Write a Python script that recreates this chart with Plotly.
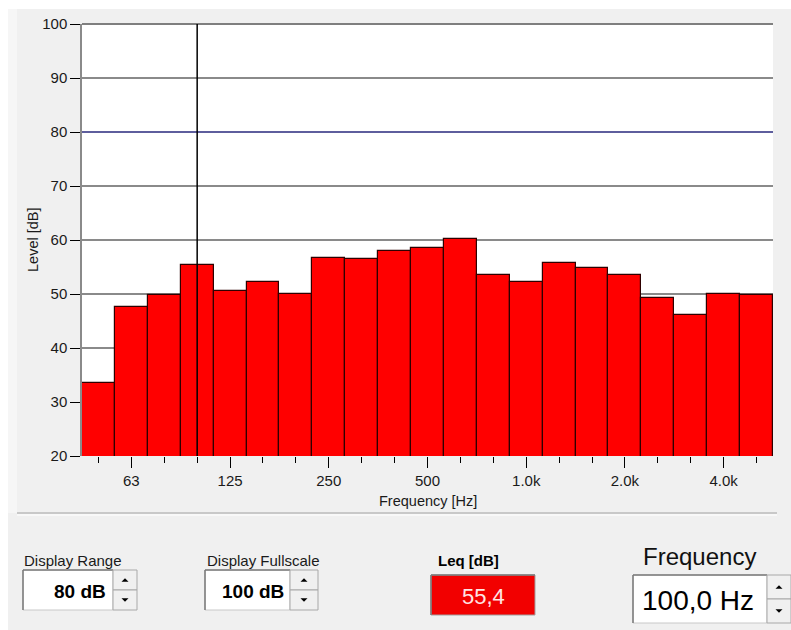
import plotly.graph_objects as go

# Third-octave band centre frequencies [Hz] and measured levels [dB]
bands = [50, 63, 80, 100, 125, 160, 200, 250, 315, 400, 500, 630,
         800, 1000, 1250, 1600, 2000, 2500, 3150, 4000, 5000]
levels = [33.5, 47.6, 49.8, 55.4, 50.6, 52.2, 50.0, 56.7, 56.4, 58.0, 58.5, 60.2,
          53.6, 52.2, 55.8, 54.8, 53.6, 49.3, 46.2, 50.0, 49.8]

# Labelled (major) frequency ticks
labeled_bands = [63, 125, 250, 500, 1000, 2000, 4000]
tick_text = ["63", "125", "250", "500", "1.0k", "2.0k", "4.0k"]

# Display settings
display_range = 80       # dB
display_fullscale = 100  # dB
alarm_level = 80         # dB
selected_freq = 100.0    # Hz (cursor)

W, H = 791, 630
L, R, T, B = 82, 773, 24, 456
FONT = "Liberation Sans, Arial, sans-serif"


def px(x):
    return (x - L) / (R - L)


def py(y):
    return (B - y) / (B - T)


idx = list(range(len(bands)))
sel_i = bands.index(int(selected_freq))
ymin = display_fullscale - display_range

fig = go.Figure()
fig.add_trace(go.Bar(
    x=idx, y=levels, width=1.0,
    marker=dict(color="#ff0000", line=dict(color="#2e0000", width=1.2)),
    hoverinfo="skip", showlegend=False,
))

shapes = []
ann = []


def rect(x0, y0, x1, y1, fill, line=None, lw=1, layer="above"):
    shapes.append(dict(type="rect", xref="paper", yref="paper",
                       x0=px(x0), x1=px(x1), y0=py(y0), y1=py(y1),
                       fillcolor=fill, layer=layer,
                       line=dict(color=line or fill, width=lw if line else 0)))


def hline(x0, x1, y, color, w=1, layer="above"):
    shapes.append(dict(type="line", xref="paper", yref="paper",
                       x0=px(x0), x1=px(x1), y0=py(y), y1=py(y),
                       line=dict(color=color, width=w), layer=layer))


def vline(x, y0, y1, color, w=1, layer="above"):
    shapes.append(dict(type="line", xref="paper", yref="paper",
                       x0=px(x), x1=px(x), y0=py(y0), y1=py(y1),
                       line=dict(color=color, width=w), layer=layer))


def tri(cx, cy, up=True, size=4):
    if up:
        pts = [(cx - size, cy + size / 2), (cx + size, cy + size / 2), (cx, cy - size / 2)]
    else:
        pts = [(cx - size, cy - size / 2), (cx + size, cy - size / 2), (cx, cy + size / 2)]
    path = "M " + " L ".join(f"{px(a):.5f},{py(b):.5f}" for a, b in pts) + " Z"
    shapes.append(dict(type="path", xref="paper", yref="paper", path=path,
                       fillcolor="#000000", line=dict(width=0)))


def text(x, y, s, size, xanchor="left", bold=False, color="#1a1a1a", angle=0):
    ann.append(dict(x=px(x), y=py(y), xref="paper", yref="paper",
                    text=f"<b>{s}</b>" if bold else s, showarrow=False,
                    xanchor=xanchor, yanchor="middle", textangle=angle,
                    font=dict(family=FONT, size=size, color=color)))


def sunken_box(x0, y0, x1, y1, fill="#ffffff"):
    rect(x0, y0, x1, y1, fill, "#c8c8c8", 1)
    hline(x0, x1, y0, "#7a7a7a", 1.5)
    vline(x0, y0, y1, "#7a7a7a", 1.5)


def spinner(x0, y0, x1, y1):
    ym = (y0 + y1) / 2
    rect(x0, y0, x1, ym, "#f0f0f0", "#a8a8a8", 1)
    rect(x0, ym, x1, y1, "#f0f0f0", "#a8a8a8", 1)
    cx = (x0 + x1) / 2
    tri(cx, (y0 + ym) / 2, True, 3.5)
    tri(cx, (ym + y1) / 2, False, 3.5)


# Window frame
rect(0, 0, 8, H, "#ffffff", layer="below")
rect(0, 0, W, 9, "#ffffff", layer="below")
rect(8, 9, 17, 513, "#f6f6f6", layer="below")
hline(17, 777, 513, "#a0a0a0", 1.2)
hline(17, 777, 515, "#ffffff", 1.2)

# Plot frame: top border, alarm line, cursor
hline(L, R, T, "#7f7f7f", 2.2)
shapes.append(dict(type="line", xref="paper", yref="y", x0=0, x1=1,
                   y0=alarm_level, y1=alarm_level,
                   line=dict(color="#4f4fa3", width=1.5)))
shapes.append(dict(type="line", xref="x", yref="y", x0=sel_i, x1=sel_i,
                   y0=ymin, y1=display_fullscale,
                   line=dict(color="#000000", width=1.5)))

# Axis titles
text(33, 240, "Level [dB]", 14.5, xanchor="center", angle=-90)
text(428, 501, "Frequency [Hz]", 14.5, xanchor="center")

# Controls row
text(22, 560, "Display Range", 15)
sunken_box(23, 570, 113, 610)
text(108, 591, f"{display_range} dB", 19, xanchor="right", bold=True, color="#000")
spinner(113, 570, 137, 610)

text(205, 560, "Display Fullscale", 15)
sunken_box(205, 570, 290, 610)
text(286, 591, f"{display_fullscale} dB", 19, xanchor="right", bold=True, color="#000")
spinner(290, 570, 318, 610)

text(469, 560, "Leq [dB]", 15, xanchor="center", bold=True, color="#000")
rect(431, 575, 535, 615, "#f20000", "#a0a0a0", 1)
hline(431, 535, 575, "#7a7a7a", 1.5)
vline(431, 575, 615, "#7a7a7a", 1.5)
leq_txt = f"{levels[sel_i]:.1f}".replace(".", ",")
text(483, 596, leq_txt, 22, xanchor="center", color="#ffe4e4")

text(699, 556, "Frequency", 24, xanchor="center", color="#111")
sunken_box(633, 575, 767, 623)
freq_txt = f"{selected_freq:.1f}".replace(".", ",") + " Hz"
text(640, 600, freq_txt, 28, color="#000")
spinner(767, 575, 791, 623)

fig.update_layout(
    width=W, height=H,
    margin=dict(l=L, r=W - R, t=T, b=H - B, pad=0),
    paper_bgcolor="#f0f0f0", plot_bgcolor="#ffffff",
    bargap=0, showlegend=False,
    shapes=shapes, annotations=ann,
    font=dict(family=FONT, size=15, color="#1a1a1a"),
    xaxis=dict(
        range=[-0.5, len(bands) - 0.5], showgrid=False, zeroline=False,
        tickvals=[bands.index(b) for b in labeled_bands], ticktext=tick_text,
        ticks="outside", ticklen=11, tickwidth=1.2, tickcolor="#000",
        tickfont=dict(size=15, color="#1a1a1a"),
        minor=dict(tickvals=[i for i, b in enumerate(bands) if b not in labeled_bands],
                   ticks="outside", ticklen=6, tickwidth=1.2, tickcolor="#000",
                   showgrid=False),
        showline=False, fixedrange=True,
    ),
    yaxis=dict(
        range=[ymin, display_fullscale], dtick=10, tick0=0,
        showgrid=True, gridcolor="#8a8a8a", gridwidth=1.5, zeroline=False,
        ticks="outside", ticklen=10, tickwidth=1.2, tickcolor="#000",
        tickfont=dict(size=15, color="#1a1a1a"),
        showline=True, linecolor="#8a8a8a", linewidth=1.5, fixedrange=True,
    ),
)

fig.write_html("out.html", config={"displayModeBar": False})
